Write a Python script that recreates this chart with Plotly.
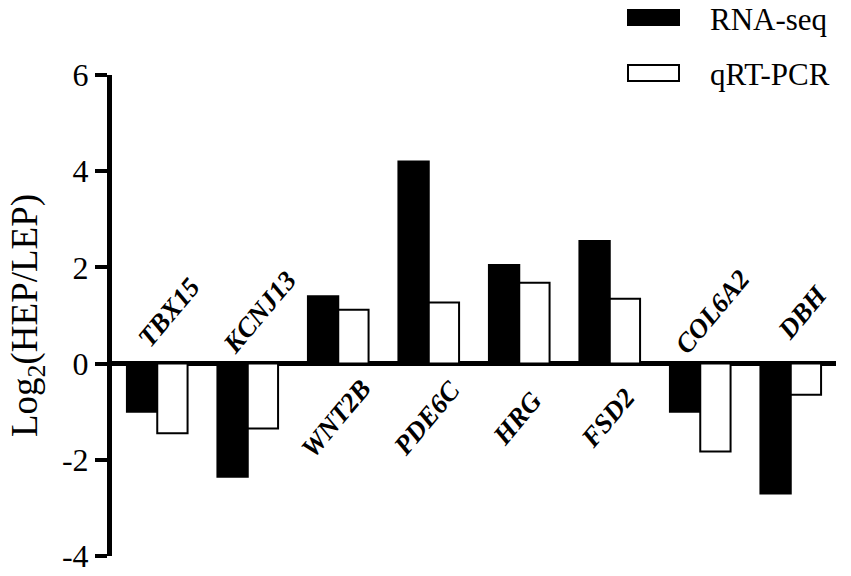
import plotly.graph_objects as go

# Log2 fold change, RNA-seq vs qRT-PCR validation
genes = ["TBX15", "KCNJ13", "WNT2B", "PDE6C", "HRG", "FSD2", "COL6A2", "DBH"]
rna_seq = [-1.00, -2.35, 1.40, 4.20, 2.05, 2.55, -1.00, -2.70]
qrt_pcr = [-1.45, -1.35, 1.12, 1.27, 1.68, 1.35, -1.83, -0.65]

y_ticks = [-4, -2, 0, 2, 4, 6]
y_tick_text = ["-4", "-2", "0", "2", "4", "6"]

FONT = "Liberation Serif, Times New Roman, serif"

fig = go.Figure()
fig.add_trace(go.Bar(x=genes, y=rna_seq, name="RNA-seq",
                     marker=dict(color="black", line=dict(color="black", width=2)),
                     showlegend=False))
fig.add_trace(go.Bar(x=genes, y=qrt_pcr, name="qRT-PCR",
                     marker=dict(color="white", line=dict(color="black", width=2)),
                     showlegend=False))

# gene names, rotated, on the side opposite the bars
for g, r in zip(genes, rna_seq):
    above = r < 0
    fig.add_annotation(x=g, y=1.07 if above else -1.13, text=f"<b><i>{g}</i></b>",
                       showarrow=False, textangle=-50, xshift=12 if above else -2,
                       font=dict(family=FONT, size=27, color="black"))

# hand-made legend (big boxes like the original)
l, r, t, b = 112, 15, 75, 20
pw, ph = 851 - l - r, 576 - t - b
def px(x): return (x - l) / pw
def py(y): return (576 - b - y) / ph

fig.add_shape(type="rect", xref="paper", yref="paper",
              x0=px(628), x1=px(679), y0=py(25), y1=py(10),
              fillcolor="black", line=dict(color="black", width=2))
fig.add_shape(type="rect", xref="paper", yref="paper",
              x0=px(628), x1=px(679), y0=py(81), y1=py(65),
              fillcolor="white", line=dict(color="black", width=2))
fig.add_annotation(xref="paper", yref="paper", x=px(708), y=py(19), text="RNA-seq",
                   showarrow=False, xanchor="left", yanchor="middle",
                   font=dict(family=FONT, size=31, color="black"))
fig.add_annotation(xref="paper", yref="paper", x=px(708), y=py(74), text="qRT-PCR",
                   showarrow=False, xanchor="left", yanchor="middle",
                   font=dict(family=FONT, size=31, color="black"))

fig.update_layout(
    width=851, height=576,
    margin=dict(l=l, r=r, t=t, b=b, autoexpand=False),
    plot_bgcolor="white", paper_bgcolor="white",
    barmode="group", bargap=0.33, bargroupgap=0,
    font=dict(family=FONT, color="black"),
    xaxis=dict(showticklabels=False, showline=False, showgrid=False,
               zeroline=False, ticks="", range=[-0.5, 7.5], automargin=False),
    yaxis=dict(range=[-4, 6], tickvals=y_ticks, ticktext=y_tick_text, showgrid=False,
               showline=True, linewidth=5, linecolor="black", automargin=False,
               ticks="outside", ticklen=12, tickwidth=4, tickcolor="black",
               tickfont=dict(family=FONT, size=32, color="black"),
               zeroline=True, zerolinewidth=5, zerolinecolor="black",
               title=dict(text="Log<sub>2</sub>(HEP/LEP)", standoff=14,
                          font=dict(family=FONT, size=37, color="black"))),
)

# drop the browser's default body margin so the figure sits at (0, 0)
fig.write_html("out.html", config={"displayModeBar": False},
               post_script="document.body.style.margin = '0';")
